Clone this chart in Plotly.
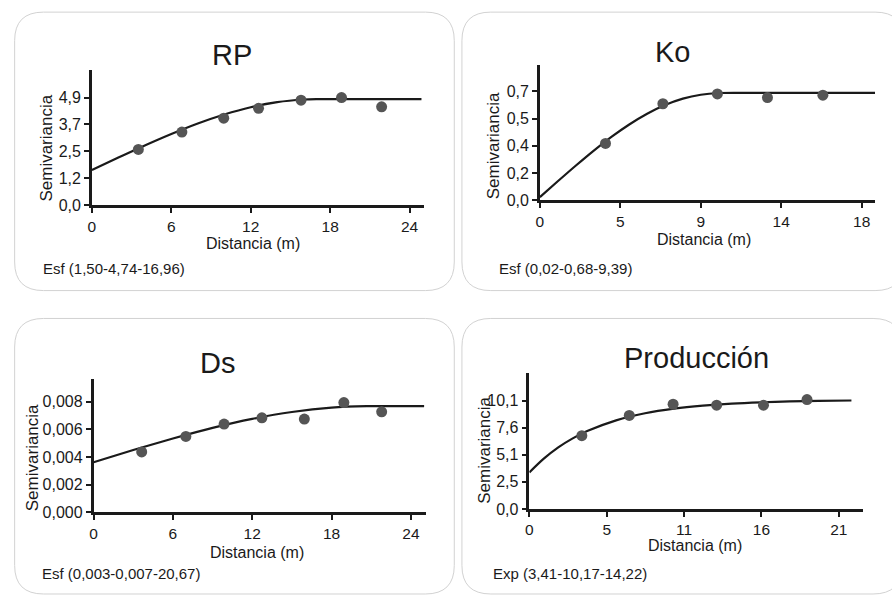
import plotly.graph_objects as go

# ---------------- data ----------------
# RP
rp_lag = [3.51, 6.80, 9.96, 12.59, 15.80, 18.86, 21.89]
rp_gamma = [2.54, 3.33, 3.96, 4.41, 4.78, 4.90, 4.48]
rp_model_x = [0, 2, 3.5, 6, 8, 10, 12, 14, 16, 16.96, 20, 24.9]
rp_model_y = [1.60, 2.17, 2.585, 3.24, 3.72, 4.13, 4.46, 4.69, 4.81, 4.83, 4.83, 4.83]
rp_xticks = [0, 6, 12, 18, 24]
rp_xlabels = ["0", "6", "12", "18", "24"]
rp_yticks = [0, 1.225, 2.45, 3.675, 4.9]
rp_ylabels = ["0,0", "1,2", "2,5", "3,7", "4,9"]
rp_title = "RP"
rp_note = "Esf (1,50-4,74-16,96)"

# Ko
ko_lag = [3.67, 6.88, 9.93, 12.73, 15.83]
ko_gamma = [0.365, 0.620, 0.683, 0.660, 0.675]
ko_model_x = [0, 1, 2, 3, 4, 5, 6, 7, 8, 9, 10, 12, 18.75]
ko_model_y = [0.02, 0.122, 0.222, 0.318, 0.407, 0.487, 0.556, 0.612, 0.653, 0.678, 0.689, 0.69, 0.69]
ko_xticks = [0, 4.5, 9, 13.5, 18]
ko_xlabels = ["0", "5", "9", "14", "18"]
ko_yticks = [0, 0.175, 0.35, 0.525, 0.7]
ko_ylabels = ["0,0", "0,2", "0,4", "0,5", "0,7"]
ko_title = "Ko"
ko_note = "Esf (0,02-0,68-9,39)"

# Ds
ds_lag = [3.64, 6.98, 9.87, 12.73, 15.94, 18.93, 21.79]
ds_gamma = [0.00436, 0.00548, 0.00638, 0.00683, 0.00674, 0.00793, 0.00726]
ds_model_x = [0, 3, 6, 9, 12, 15, 18, 20.67, 23, 25]
ds_model_y = [0.00362, 0.00450, 0.00533, 0.00610, 0.00675, 0.00725, 0.00757, 0.00767, 0.00767, 0.00767]
ds_xticks = [0, 6, 12, 18, 24]
ds_xlabels = ["0", "6", "12", "18", "24"]
ds_yticks = [0, 0.002, 0.004, 0.006, 0.008]
ds_ylabels = ["0,000", "0,002", "0,004", "0,006", "0,008"]
ds_title = "Ds"
ds_note = "Esf (0,003-0,007-20,67)"

# Producción
pr_lag = [3.63, 6.91, 9.94, 12.95, 16.19, 19.2]
pr_gamma = [6.83, 8.72, 9.76, 9.67, 9.67, 10.19]
pr_model_x = [0, 1, 2, 3, 4, 6, 8, 10, 12, 14, 16, 18, 20, 22.27]
pr_model_y = [3.41, 4.69, 5.74, 6.58, 7.26, 8.26, 8.92, 9.35, 9.63, 9.82, 9.94, 10.02, 10.07, 10.11]
pr_xticks = [0, 5.35, 10.7, 16.05, 21.4]
pr_xlabels = ["0", "5", "11", "16", "21"]
pr_yticks = [0, 2.525, 5.05, 7.575, 10.1]
pr_ylabels = ["0,0", "2,5", "5,1", "7,6", "10,1"]
pr_title = "Producción"
pr_note = "Exp (3,41-10,17-14,22)"

x_title = "Distancia (m)"
y_title = "Semivariancia"

# ---------------- layout helpers ----------------
W, H = 892, 602
FONT = "Liberation Sans, Arial, sans-serif"
INK = "#1a1a1a"


def fx(px):
    return px / W


def fy(py):
    return 1 - py / H


panels = [
    dict(lag=rp_lag, gamma=rp_gamma, mx=rp_model_x, my=rp_model_y,
         xt=rp_xticks, xl=rp_xlabels, yt=rp_yticks, yl=rp_ylabels,
         title=rp_title, note=rp_note,
         plot=(88.3, 70.7, 422.0, 208.3), xr=[0, 25.1], yr=[0, 6.17],
         box=(10.7, 12.3, 452.3, 295.0),
         tpos=(229.3, 55.8), ypos=(43.0, 150.0), xpos=(250.5, 247.0), npos=(36.7, 272.7)),
    dict(lag=ko_lag, gamma=ko_gamma, mx=ko_model_x, my=ko_model_y,
         xt=ko_xticks, xl=ko_xlabels, yt=ko_yticks, yl=ko_ylabels,
         title=ko_title, note=ko_note,
         plot=(538.3, 66.0, 875.0, 203.3), xr=[0, 18.75], yr=[0, 0.869],
         box=(460.0, 12.3, 904.0, 295.0),
         tpos=(671.7, 52.5), ypos=(491.7, 148.0), xpos=(702.7, 243.0), npos=(495.7, 272.7)),
    dict(lag=ds_lag, gamma=ds_gamma, mx=ds_model_x, my=ds_model_y,
         xt=ds_xticks, xl=ds_xlabels, yt=ds_yticks, yl=ds_ylabels,
         title=ds_title, note=ds_note,
         plot=(90.0, 385.0, 424.0, 520.0), xr=[0, 25.15], yr=[0, 0.00962],
         box=(10.7, 323.3, 452.3, 603.0),
         tpos=(214.5, 368.3), ypos=(28.3, 465.0), xpos=(254.2, 560.5), npos=(35.7, 582.7)),
    dict(lag=pr_lag, gamma=pr_gamma, mx=pr_model_x, my=pr_model_y,
         xt=pr_xticks, xl=pr_xlabels, yt=pr_yticks, yl=pr_ylabels,
         title=pr_title, note=pr_note,
         plot=(527.7, 379.0, 863.3, 516.7), xr=[0, 23.1], yr=[0, 12.64],
         box=(460.0, 323.3, 902.0, 603.0),
         tpos=(696.0, 363.8), ypos=(483.3, 457.5), xpos=(693.8, 554.0), npos=(489.3, 581.7)),
]

fig = go.Figure()
shapes = []
annotations = []
R = 29


def rounded_path(x0, y0, x1, y1, r):
    cmds = [
        f"M {fx(x0 + r)},{fy(y0)}",
        f"L {fx(x1 - r)},{fy(y0)}",
        f"Q {fx(x1)},{fy(y0)} {fx(x1)},{fy(y0 + r)}",
        f"L {fx(x1)},{fy(y1 - r)}",
        f"Q {fx(x1)},{fy(y1)} {fx(x1 - r)},{fy(y1)}",
        f"L {fx(x0 + r)},{fy(y1)}",
        f"Q {fx(x0)},{fy(y1)} {fx(x0)},{fy(y1 - r)}",
        f"L {fx(x0)},{fy(y0 + r)}",
        f"Q {fx(x0)},{fy(y0)} {fx(x0 + r)},{fy(y0)}",
        "Z",
    ]
    return " ".join(cmds)


for i, p in enumerate(panels, start=1):
    xa = "x" if i == 1 else f"x{i}"
    ya = "y" if i == 1 else f"y{i}"
    fig.add_trace(go.Scatter(x=p["mx"], y=p["my"], mode="lines",
                             line=dict(color=INK, width=2.2, shape="spline", smoothing=0.8),
                             xaxis=xa, yaxis=ya, showlegend=False, hoverinfo="skip"))
    fig.add_trace(go.Scatter(x=p["lag"], y=p["gamma"], mode="markers",
                             marker=dict(color="#555555", size=11, line=dict(width=0)),
                             xaxis=xa, yaxis=ya, showlegend=False))
    x0, y0, x1, y1 = p["plot"]
    axcommon = dict(showline=True, linecolor=INK, linewidth=2.5, ticks="outside",
                    ticklen=5, tickwidth=2, tickcolor=INK, showgrid=False, zeroline=False,
                    fixedrange=True)
    fig.update_layout({
        ("xaxis" if i == 1 else f"xaxis{i}"): dict(
            domain=[fx(x0), fx(x1)], range=p["xr"], anchor=ya,
            tickfont=dict(family=FONT, size=15.5, color=INK),
            tickmode="array", tickvals=p["xt"], ticktext=p["xl"], **axcommon),
        ("yaxis" if i == 1 else f"yaxis{i}"): dict(
            domain=[fy(y1), fy(y0)], range=p["yr"], anchor=xa,
            tickfont=dict(family=FONT, size=16, color=INK),
            tickmode="array", tickvals=p["yt"], ticktext=p["yl"], **axcommon),
    })
    bx0, by0, bx1, by1 = p["box"]
    shapes.append(dict(type="path", xref="paper", yref="paper",
                       path=rounded_path(bx0, by0, bx1, by1, R),
                       line=dict(color="#d2d2d2", width=1), fillcolor="rgba(0,0,0,0)",
                       layer="below"))
    annotations.append(dict(text=p["title"], x=fx(p["tpos"][0]), y=fy(p["tpos"][1]),
                            xref="paper", yref="paper", showarrow=False,
                            xanchor="center", yanchor="middle",
                            font=dict(family=FONT, size=29, color=INK)))
    annotations.append(dict(text=y_title, x=fx(p["ypos"][0]), y=fy(p["ypos"][1]),
                            xref="paper", yref="paper", showarrow=False, textangle=-90,
                            xanchor="center", yanchor="middle",
                            font=dict(family=FONT, size=17, color=INK)))
    annotations.append(dict(text=x_title, x=fx(p["xpos"][0]), y=fy(p["xpos"][1]),
                            xref="paper", yref="paper", showarrow=False,
                            xanchor="center", yanchor="middle",
                            font=dict(family=FONT, size=16, color=INK)))
    annotations.append(dict(text=p["note"], x=fx(p["npos"][0]), y=fy(p["npos"][1]),
                            xref="paper", yref="paper", showarrow=False,
                            xanchor="left", yanchor="middle",
                            font=dict(family=FONT, size=15, color=INK)))

fig.update_layout(width=W, height=H, margin=dict(l=0, r=0, t=0, b=0),
                  paper_bgcolor="white", plot_bgcolor="rgba(0,0,0,0)",
                  shapes=shapes, annotations=annotations, showlegend=False)

fig.write_html("out.html", config={"displayModeBar": False},
               post_script="document.body.style.margin='0px';document.body.style.overflow='hidden';")
